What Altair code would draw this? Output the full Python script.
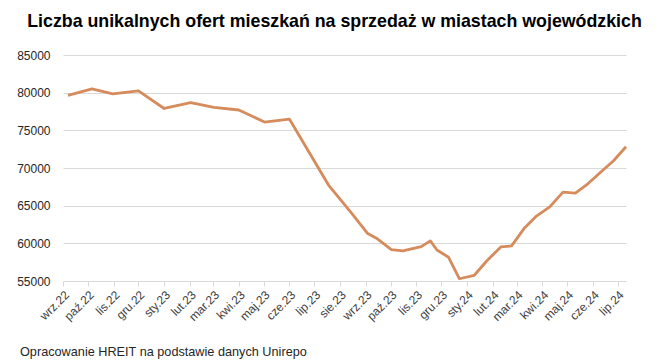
import altair as alt
import pandas as pd

title_text = "Liczba unikalnych ofert mieszkań na sprzedaż w miastach wojewódzkich"
footer_text = "Opracowanie HREIT na podstawie danych Unirepo"

dates = [
    "2022-09-07", "2022-10-06", "2022-10-31", "2022-12-01", "2023-01-01",
    "2023-02-02", "2023-03-02", "2023-04-01", "2023-05-02", "2023-06-01",
    "2023-07-18", "2023-08-15", "2023-09-03", "2023-09-14", "2023-10-02",
    "2023-10-16", "2023-11-07", "2023-11-18", "2023-11-26", "2023-12-10",
    "2023-12-23", "2024-01-10", "2024-01-25", "2024-02-11", "2024-02-24",
    "2024-03-10", "2024-03-25", "2024-04-10", "2024-04-26", "2024-05-11",
    "2024-05-26", "2024-06-11", "2024-06-26", "2024-07-11",
]
values = [
    79650, 80500, 79830, 80230, 77900,
    78670, 78050, 77700, 76100, 76500,
    67770, 64000, 61350, 60680, 59160,
    58990, 59560, 60320, 59120, 58150,
    55300, 55760, 57660, 59520, 59660,
    61960, 63620, 64840, 66800, 66670,
    67900, 69500, 70960, 72820,
]
month_names = ["sty", "lut", "mar", "kwi", "maj", "cze",
               "lip", "sie", "wrz", "paź", "lis", "gru"]
tick_months = pd.date_range("2022-09-01", "2024-07-01", freq="MS")
y_ticks = [55000, 60000, 65000, 70000, 75000, 80000, 85000]

def ms(d):
    return int(pd.Timestamp(d, tz="UTC").value // 10**6)

tick_values = [ms(d) for d in tick_months]
x_domain = [ms("2022-09-01"), ms("2024-07-11")]

df = pd.DataFrame({"date": dates, "value": values})

names_js = "[" + ",".join("'" + m + "'" for m in month_names) + "]"
label_expr = names_js + "[utcmonth(datum.value)] + '.' + utcFormat(datum.value, '%y')"

FONT = "Liberation Sans"
W, H = 563, 226

line = alt.Chart(df).mark_line(color="#D58B5C", strokeWidth=2.8, strokeJoin="round").encode(
    x=alt.X("date:T",
            scale=alt.Scale(type="utc", domain=x_domain),
            axis=alt.Axis(values=tick_values, labelExpr=label_expr, title=None,
                          labelAngle=-45, labelAlign="right", labelBaseline="top",
                          labelOverlap=False, labelFontSize=12, labelFont=FONT,
                          labelColor="#404040", grid=False, domainColor="#d9d9d9",
                          tickColor="#d9d9d9", tickSize=5, labelPadding=3)),
    y=alt.Y("value:Q",
            scale=alt.Scale(domain=[55000, 85000], nice=False, zero=False),
            axis=alt.Axis(values=y_ticks, format="d", title=None, domain=False,
                          ticks=False, labelFontSize=12, labelFont=FONT,
                          labelColor="#262626", labelPadding=13,
                          gridColor="#d9d9d9", gridWidth=1)),
)

title = alt.Chart(pd.DataFrame({"t": [title_text]})).mark_text(
    font=FONT, fontSize=17.8, fontWeight="bold", color="#000000",
    align="center", baseline="alphabetic",
).encode(text="t:N", x=alt.value(271.5), y=alt.value(-27.7))

footer = alt.Chart(pd.DataFrame({"t": [footer_text]})).mark_text(
    font=FONT, fontSize=12.7, color="#262626", align="left", baseline="alphabetic",
).encode(text="t:N", x=alt.value(-43), y=alt.value(300.5))

chart = alt.layer(line, title, footer).properties(
    width=W, height=H,
    autosize=alt.AutoSizeParams(type="none"),
    padding={"left": 55, "top": 47, "right": 20, "bottom": 81},
).configure_view(stroke=None)

chart.save("out.html", embed_options={"renderer": "svg", "actions": False})
